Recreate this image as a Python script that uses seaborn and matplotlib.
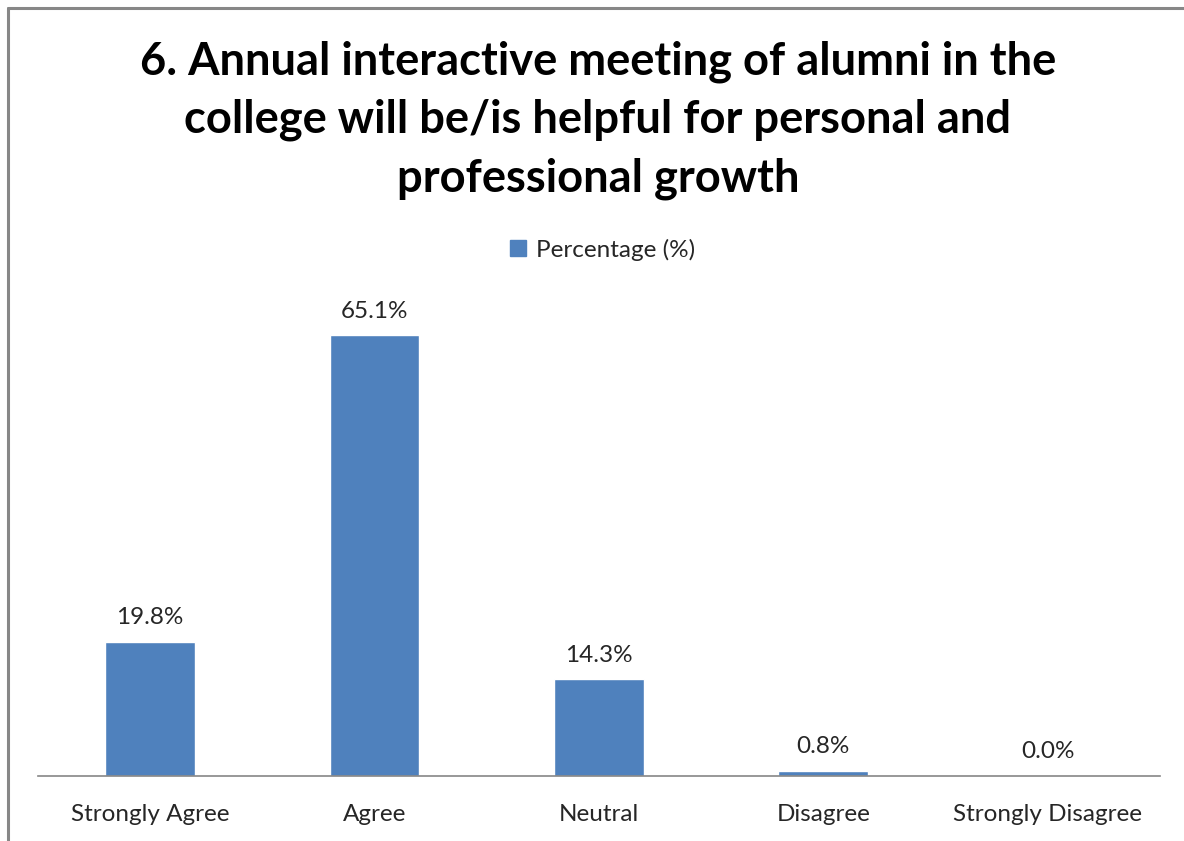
import pandas as pd
import matplotlib.pyplot as plt
import seaborn as sns
from matplotlib.lines import Line2D
from matplotlib.patches import Patch

categories = ["Strongly Agree", "Agree", "Neutral", "Disagree", "Strongly Disagree"]
percentages = [19.8, 65.1, 14.3, 0.8, 0.0]
series_name = "Percentage (%)"
title = ("6. Annual interactive meeting of alumni in the\n"
         "college will be/is helpful for personal and\n"
         "professional growth")

sns.set_style("white")
plt.rcParams['font.family'] = ['Lato', 'DejaVu Sans']

df = pd.DataFrame({"category": categories, "value": percentages})
bar_color = "#4F81BD"
text_color = "#262626"

fig = plt.figure(figsize=(11.84, 8.41), dpi=100)
ax = fig.add_axes([0.0321, 0.0773, 0.9476, 0.5636])

sns.barplot(data=df, x="category", y="value", color=bar_color, width=0.4,
            saturation=1, ax=ax)

for i, v in enumerate(percentages):
    ax.text(i, v + 2.0, f"{v:.1f}%", ha="center", va="bottom",
            fontsize=17.5, color=text_color)

ax.set_ylim(0, 70)
ax.set_xlim(-0.5, len(categories) - 0.5)
ax.set_xlabel("")
ax.set_ylabel("")
ax.set_yticks([])
ax.tick_params(axis="x", length=0, pad=20, labelsize=17.5, labelcolor=text_color)
for s in ["top", "right", "left"]:
    ax.spines[s].set_visible(False)
ax.spines["bottom"].set_color("#868686")
ax.spines["bottom"].set_linewidth(1.2)

fig.text(0.505, 0.952, title, ha="center", va="top", fontsize=32.6,
         fontweight="bold", color="black", linespacing=1.47)

handle = Patch(facecolor=bar_color, edgecolor=bar_color)
fig.legend([handle], [series_name], loc="center", bbox_to_anchor=(0.509, 0.703),
           frameon=False, fontsize=17.5, handlelength=0.65, handleheight=0.65,
           handletextpad=0.4, labelcolor=text_color)

# outer chart border (left and top visible)
fig.add_artist(Line2D([8 / 1184, 8 / 1184], [0, 1 - 8 / 841], transform=fig.transFigure,
                      color="#878787", linewidth=2.2))
fig.add_artist(Line2D([8 / 1184, 1], [1 - 8 / 841, 1 - 8 / 841], transform=fig.transFigure,
                      color="#878787", linewidth=2.2))

fig.savefig("out.png", dpi=100)
